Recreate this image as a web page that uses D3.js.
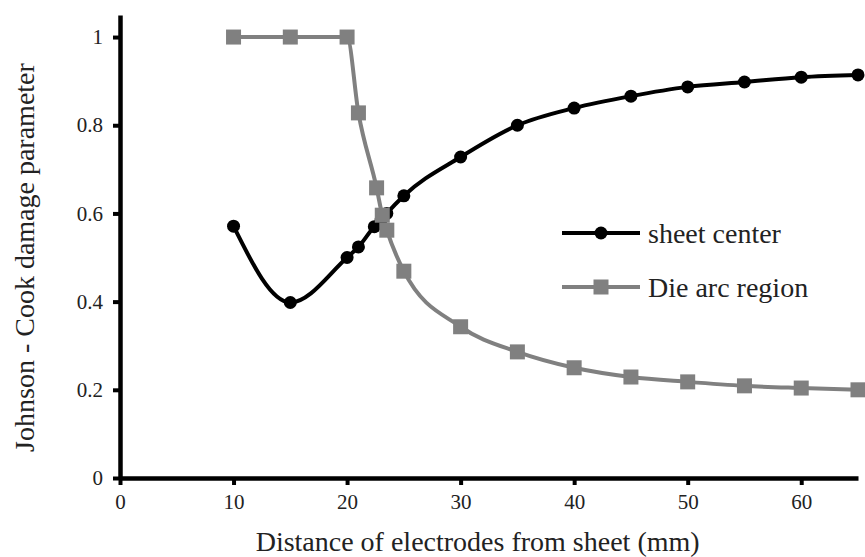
<!DOCTYPE html>
<html>
<head>
<meta charset="utf-8">
<script src="https://cdn.jsdelivr.net/npm/d3@7"></script>
<style>
  body { margin: 0; background: #fff; }
  svg text { font-family: "Liberation Serif", "Tinos", "Times New Roman", Times, "DejaVu Serif", serif !important; fill: #222; }
</style>
</head>
<body>
<svg id="chart" width="865" height="557"></svg>
<script>
// data
var centerX = [10, 15, 20, 21, 22.4, 23, 23.5, 25, 30, 35, 40, 45, 50, 55, 60, 65];
var centerY = [0.571, 0.398, 0.50, 0.524, 0.57, 0.585, 0.60, 0.640, 0.728, 0.800, 0.839, 0.866, 0.887, 0.898, 0.909, 0.914];

var dieX = [10, 15, 20, 21, 22.6, 23.1, 23.5, 25, 30, 35, 40, 45, 50, 55, 60, 65];
var dieY = [1.0, 1.0, 1.0, 0.828, 0.658, 0.596, 0.562, 0.469, 0.343, 0.286, 0.250, 0.229, 0.218, 0.209, 0.204, 0.200];

var xTicks = [0, 10, 20, 30, 40, 50, 60];
var yTicks = [0, 0.2, 0.4, 0.6, 0.8, 1];
var seriesNames = ['sheet center', 'Die arc region'];

var svg = d3.select('#chart'),
    margin = {top: 15, right: 7, bottom: 79, left: 120},
    width = +svg.attr('width') - margin.left - margin.right,
    height = +svg.attr('height') - margin.top - margin.bottom,
    g = svg.append('g').attr('transform', 'translate(' + margin.left + ',' + margin.top + ')');

var x = d3.scaleLinear().domain([0, 65]).range([0, width]),
    y = d3.scaleLinear().domain([0, 1.05]).range([height, 0]);

var center = centerX.map(function(d, i) { return {x: d, y: centerY[i]}; }),
    die = dieX.map(function(d, i) { return {x: d, y: dieY[i]}; });

var line = d3.line()
    .x(function(d) { return x(d.x); })
    .y(function(d) { return y(d.y); })
    .curve(d3.curveMonotoneX);

// axes
var xAxis = g.append('g')
    .attr('transform', 'translate(0,' + height + ')')
    .call(d3.axisBottom(x).tickValues(xTicks).tickSize(7).tickSizeOuter(0).tickPadding(9));
var yAxis = g.append('g')
    .call(d3.axisLeft(y).tickValues(yTicks).tickSize(7).tickSizeOuter(0).tickPadding(10)
        .tickFormat(function(d) { return d === 0 || d === 1 ? d : d.toFixed(1); }));

[xAxis, yAxis].forEach(function(a) {
    a.attr('font-family', null);
    a.select('.domain').attr('stroke', '#000').attr('stroke-width', 4.5);
    a.selectAll('.tick line').attr('stroke', '#000').attr('stroke-width', 4);
    a.selectAll('.tick text').attr('font-size', 21).attr('fill', '#222');
});

// die arc region (grey, squares)
g.append('path')
    .datum(die)
    .attr('fill', 'none')
    .attr('stroke', '#808080')
    .attr('stroke-width', 4)
    .attr('d', line);

// sheet center (black, circles)
g.append('path')
    .datum(center)
    .attr('fill', 'none')
    .attr('stroke', '#000')
    .attr('stroke-width', 4)
    .attr('d', line);

g.selectAll('.dot')
    .data(center)
    .enter().append('circle')
        .attr('class', 'dot')
        .attr('cx', function(d) { return x(d.x); })
        .attr('cy', function(d) { return y(d.y); })
        .attr('r', 6.5)
        .attr('fill', '#000');

g.selectAll('.sq')
    .data(die)
    .enter().append('rect')
        .attr('class', 'sq')
        .attr('x', function(d) { return x(d.x) - 7.5; })
        .attr('y', function(d) { return y(d.y) - 7.5; })
        .attr('width', 15)
        .attr('height', 15)
        .attr('fill', '#808080');

// axis titles
svg.append('text')
    .attr('x', margin.left + x(31.5))
    .attr('y', 551)
    .attr('text-anchor', 'middle')
    .attr('font-size', 28)
    .text('Distance of electrodes from sheet (mm)');

svg.append('text')
    .attr('transform', 'translate(34,' + (margin.top + y(0.5)) + ') rotate(-90)')
    .attr('text-anchor', 'middle')
    .attr('font-size', 28)
    .text('Johnson - Cook damage parameter');

// legend
var legend = svg.append('g').attr('transform', 'translate(562,233)');
var legendColors = ['#000', '#808080'];
seriesNames.forEach(function(name, i) {
    var row = legend.append('g').attr('transform', 'translate(0,' + (i * 54) + ')');
    row.append('line')
        .attr('x1', 0).attr('x2', 78)
        .attr('stroke', legendColors[i])
        .attr('stroke-width', 4);
    if (i === 0) {
        row.append('circle').attr('cx', 39).attr('r', 6.5).attr('fill', '#000');
    } else {
        row.append('rect').attr('x', 31.5).attr('y', -7.5).attr('width', 15).attr('height', 15)
            .attr('fill', '#808080');
    }
    row.append('text')
        .attr('x', 86)
        .attr('y', 10)
        .attr('font-size', 28)
        .text(name);
});
</script>
</body>
</html>
